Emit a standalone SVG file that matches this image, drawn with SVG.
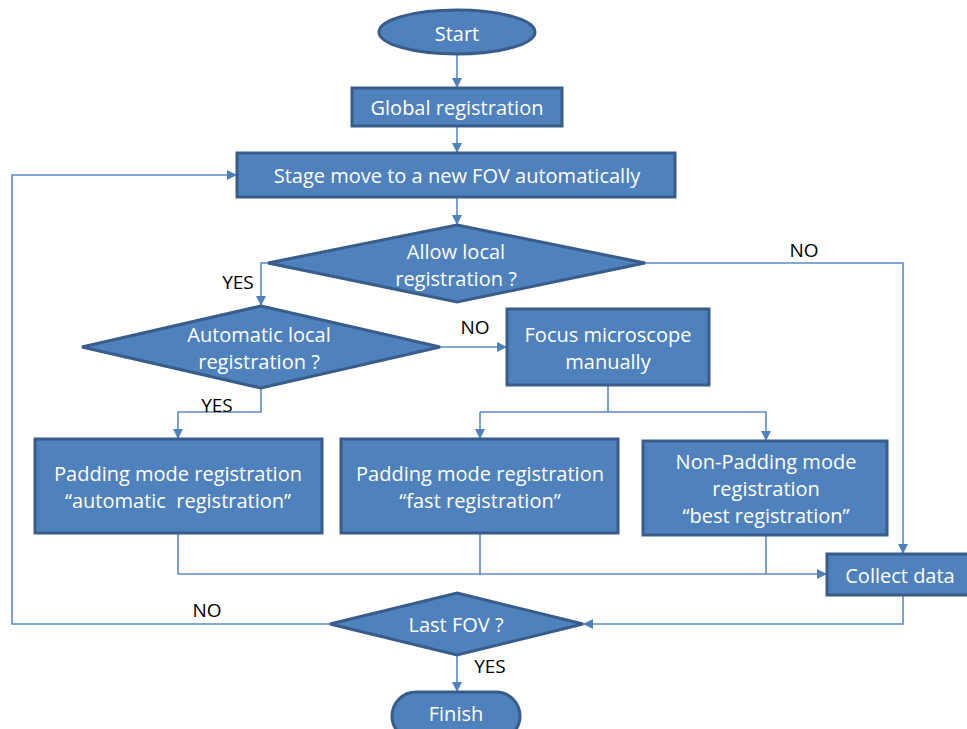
<svg xmlns="http://www.w3.org/2000/svg" width="967" height="729" viewBox="0 0 967 729">
<style>
.n{fill:#4F81BD;stroke:#385D8A;stroke-width:3}
.t{fill:#fff;font-family:"Open Sans","Liberation Sans",sans-serif;font-size:20px;text-anchor:middle;dominant-baseline:central;white-space:pre}
.l{fill:#000;font-family:"Open Sans","Liberation Sans",sans-serif;font-size:19px;text-anchor:middle;dominant-baseline:central}
.c{fill:none;stroke:#5A8AC6;stroke-width:1.6;marker-end:url(#a)}
.c2{fill:none;stroke:#5A8AC6;stroke-width:1.6}
</style>
<defs>
<marker id="a" viewBox="0 0 10 10" refX="10" refY="5" markerWidth="10" markerHeight="10" markerUnits="userSpaceOnUse" orient="auto">
<path d="M0,0 L10,5 L0,10 z" fill="#4F81BD"/>
</marker>
</defs>
<rect width="967" height="729" fill="#fff"/>
<g id="connectors">
<path class="c" d="M457,54 V88"/>
<path class="c" d="M457,126 V153"/>
<path class="c" d="M457,197 V225"/>
<path class="c" d="M268,263 H261 V306"/>
<path class="c" d="M645,263 H903 V554"/>
<path class="c" d="M440,347 H507"/>
<path class="c2" d="M608,385 V412"/>
<path class="c" d="M480,412 V439"/>
<path class="c" d="M480,412 H766 V441"/>
<path class="c" d="M261,388 V412 H178 V439"/>
<path class="c" d="M178,533 V574 H827"/>
<path class="c2" d="M480,533 V574"/>
<path class="c2" d="M766,535 V574"/>
<path class="c" d="M903,595 V624 H583"/>
<path class="c" d="M330,624 H12 V175 H237"/>
<path class="c" d="M457,655 V692"/>
</g>
<g id="start"><ellipse class="n" cx="457" cy="32" rx="78" ry="22"/><text class="t" x="457" y="33">Start</text></g>
<g id="global"><rect class="n" x="352" y="88" width="210" height="38"/><text class="t" x="457" y="107">Global registration</text></g>
<g id="stage"><rect class="n" x="237" y="153" width="438" height="44"/><text class="t" x="457" y="175">Stage move to a new FOV automatically</text></g>
<g id="allow"><polygon class="n" points="457,225 645,263 457,302 268,263"/><text class="t" x="456" y="251">Allow local</text><text class="t" x="456" y="278">registration ?</text></g>
<g id="auto"><polygon class="n" points="261,306 440,347 261,388 82,347"/><text class="t" x="259" y="334">Automatic local</text><text class="t" x="259" y="361">registration ?</text></g>
<g id="focus"><rect class="n" x="507" y="309" width="202" height="76"/><text class="t" x="608" y="334">Focus microscope</text><text class="t" x="608" y="361">manually</text></g>
<g id="box1"><rect class="n" x="35" y="439" width="287" height="94"/><text class="t" x="178" y="473">Padding mode registration</text><text class="t" x="178" y="500" xml:space="preserve">“automatic  registration”</text></g>
<g id="box2"><rect class="n" x="341" y="439" width="277" height="94"/><text class="t" x="480" y="473">Padding mode registration</text><text class="t" x="480" y="500">“fast registration”</text></g>
<g id="box3"><rect class="n" x="643" y="441" width="244" height="94"/><text class="t" x="766" y="461">Non-Padding mode</text><text class="t" x="766" y="488">registration</text><text class="t" x="766" y="515">“best registration”</text></g>
<g id="collect"><rect class="n" x="827" y="554" width="145" height="41"/><text class="t" x="900" y="575">Collect data</text></g>
<g id="last"><polygon class="n" points="457,593 583,624 457,655 330,624"/><text class="t" x="456" y="624">Last FOV ?</text></g>
<g id="finish"><rect class="n" x="392" y="692" width="128" height="48" rx="24"/><text class="t" x="456" y="713">Finish</text></g>
<g id="labels">
<text class="l" x="238" y="282">YES</text>
<text class="l" x="475" y="327">NO</text>
<text class="l" x="804" y="250">NO</text>
<text class="l" x="217" y="405">YES</text>
<text class="l" x="207" y="610">NO</text>
<text class="l" x="490" y="666">YES</text>
</g>
</svg>
